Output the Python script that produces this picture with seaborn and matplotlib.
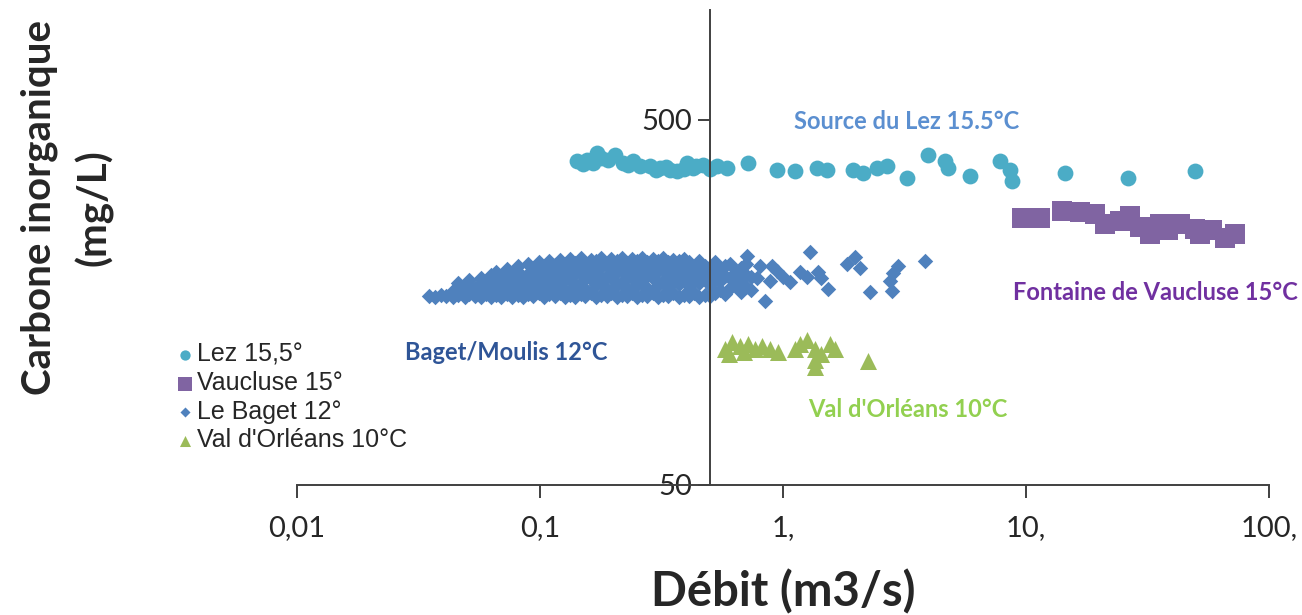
import numpy as np
import pandas as pd
import seaborn as sns
import matplotlib.pyplot as plt

# ---------------------------------------------------------
# Data (Debit m3/s, Carbone inorganique mg/L)
# ---------------------------------------------------------
lez_x = [0.142, 0.150, 0.156, 0.165, 0.171, 0.179, 0.190, 0.203, 0.219, 0.230,
         0.241, 0.258, 0.284, 0.300, 0.312, 0.330, 0.343, 0.366, 0.390, 0.402,
         0.426, 0.440, 0.469, 0.500, 0.537, 0.591, 0.718, 0.944, 1.12, 1.38,
         1.52, 1.94, 2.13, 2.44, 2.68, 3.24, 3.95, 4.64, 4.77, 5.89,
         7.82, 8.59, 8.75, 14.5, 26.3, 49.6]
lez_y = [385, 378, 388, 380, 406, 393, 388, 400, 381, 376,
         385, 373, 373, 365, 369, 372, 364, 362, 366, 381,
         369, 375, 376, 368, 373, 369, 381, 364, 362, 369,
         364, 364, 357, 369, 373, 346, 400, 385, 369, 352,
         385, 364, 340, 357, 346, 362]

vau_x = [9.63, 11.4, 14.1, 16.7, 19.2, 21.1, 24.4, 26.8, 29.5, 32.4,
         35.6, 38.4, 43.0, 49.6, 52.0, 58.2, 65.9, 72.4]
vau_y = [270, 270, 281, 279, 277, 260, 265, 272, 255, 244,
         260, 249, 259, 252, 244, 249, 237, 243]

# Le Baget: one column of x with the y values stacked at that x
baget_cols = [0.035, 0.037, 0.039, 0.041, 0.044, 0.046, 0.049, 0.051, 0.054, 0.057,
              0.060, 0.063, 0.066, 0.069, 0.073, 0.077, 0.081, 0.085, 0.089, 0.094,
              0.099, 0.104, 0.109, 0.115, 0.121, 0.127, 0.133, 0.140, 0.147, 0.154,
              0.162, 0.170, 0.179, 0.188, 0.197, 0.207, 0.217, 0.228, 0.239, 0.251,
              0.264, 0.277, 0.291, 0.306, 0.321, 0.337, 0.354, 0.372, 0.391, 0.411,
              0.432, 0.453, 0.476, 0.500, 0.525, 0.551, 0.579, 0.608, 0.638, 0.670,
              0.704, 0.740,
              0.711, 0.782, 0.804, 0.843, 0.884, 0.901, 0.944, 1.00, 1.07, 1.17,
              1.26, 1.29, 1.39, 1.44, 1.53, 1.83, 1.98, 2.07, 2.28, 2.76,
              2.81, 2.84, 2.97, 3.84]
baget_vals = [[165], [164], [166], [165], [164, 170], [166, 174, 179], [164, 171],
              [167, 176, 182], [165, 172], [164, 170, 179, 185],
              [167, 175], [164, 172, 181, 188], [166, 177, 191], [164, 170, 184],
              [167, 176, 188, 195], [164, 172, 183], [166, 178, 192, 199], [164, 170, 186],
              [167, 175, 189, 202], [165, 173, 184, 196],
              [168, 179, 191, 204], [164, 171, 186, 199], [167, 181, 193, 206],
              [165, 174, 187, 200], [168, 178, 195, 207], [164, 171, 185, 201],
              [166, 182, 193, 208], [164, 175, 189, 203], [167, 179, 197, 209],
              [165, 172, 186, 201],
              [168, 183, 194, 207], [164, 176, 190, 205], [166, 180, 198, 209],
              [165, 172, 187, 202], [168, 184, 195, 208], [164, 176, 191, 205],
              [166, 180, 199, 209], [165, 173, 188, 203], [168, 185, 196, 208],
              [164, 177, 192, 206],
              [166, 181, 199, 209], [165, 173, 189, 204], [168, 184, 196, 208],
              [164, 177, 193, 206], [166, 181, 200, 209], [165, 174, 189, 204],
              [168, 185, 197, 207], [164, 178, 193, 206], [166, 182, 200, 208],
              [165, 175, 190, 204],
              [168, 186, 198], [164, 179, 193, 205], [166, 183, 199], [165, 176, 190],
              [168, 185, 197, 204], [171, 181, 193], [167, 187, 199], [173, 185, 202],
              [177, 191], [169, 183, 196],
              [174, 188, 201], [171, 186],
              [212], [184], [199], [160], [181], [199], [193], [186], [180], [192],
              [186], [218], [192], [184], [172], [202], [211], [196], [169], [181],
              [170], [190], [199], [206]]

val_x = [0.577, 0.618, 0.665, 0.716, 0.764, 0.819, 0.884, 0.954, 0.600, 0.690,
         1.12, 1.17, 1.26, 1.35, 1.35, 1.35, 1.44, 1.56, 1.64, 2.23]
val_y = [118, 123, 120, 122, 118, 120, 118, 116, 114, 116,
         118, 122, 125, 118, 110, 105, 114, 122, 118, 109]

sites = ["Lez 15,5°", "Vaucluse 15°", "Le Baget 12°", "Val d'Orléans 10°C"]
colors = ["#4BACC6", "#8064A2", "#4F81BD", "#9BBB59"]
markers = ["o", "s", "D", "^"]
msizes = [130, 210, 62, 150]

x_ticks = [0.01, 0.1, 1, 10, 100]
x_labels = ["0,01", "0,1", "1,", "10,", "100,"]
y_ticks = [50, 500]
y_labels = ["50", "500"]

# build the table
baget_x = [x for x, ys in zip(baget_cols, baget_vals) for _ in ys]
baget_y = [y for ys in baget_vals for y in ys]
df = pd.concat([
    pd.DataFrame({"debit": lez_x, "carbone": lez_y, "site": sites[0]}),
    pd.DataFrame({"debit": vau_x, "carbone": vau_y, "site": sites[1]}),
    pd.DataFrame({"debit": baget_x, "carbone": baget_y, "site": sites[2]}),
    pd.DataFrame({"debit": val_x, "carbone": val_y, "site": sites[3]}),
])

sns.set_style("white")
plt.rcParams["font.family"] = ["Lato", "DejaVu Sans"]

fig = plt.figure(figsize=(13.02, 6.15), dpi=100)
ax = fig.add_axes([0.228, 0.2114, 0.7467, 0.7723])

for site, col, mk, sz in zip(sites, colors, markers, msizes):
    sns.scatterplot(data=df[df["site"] == site], x="debit", y="carbone",
                    color=col, marker=mk, s=sz, linewidth=0, label=site, ax=ax)

ax.set_xscale("log")
ax.set_yscale("log")
ax.set_xlim(0.01, 100)
ax.set_ylim(50, 1000)

ax.spines["top"].set_visible(False)
ax.spines["right"].set_visible(False)
ax.spines["left"].set_position(("data", 0.5))
for s in ["left", "bottom"]:
    ax.spines[s].set_color("#404040")
    ax.spines[s].set_linewidth(1.4)

ax.set_xticks(x_ticks)
ax.set_xticklabels(x_labels)
ax.set_yticks(y_ticks)
ax.set_yticklabels(y_labels)
ax.minorticks_off()
ax.tick_params(axis="x", direction="out", length=9, width=1.4, color="#404040",
               labelsize=21, pad=13, bottom=True)
ax.tick_params(axis="y", direction="out", length=9, width=1.4, color="#404040",
               labelsize=21, pad=4, left=True)

ax.set_xlabel("Débit (m3/s)", fontsize=34, fontweight="bold", labelpad=20)
ax.set_ylabel("")
fig.text(0.0515, 0.662, "Carbone inorganique\n(mg/L)", rotation=90,
         fontsize=29, fontweight="bold", ha="center", va="center",
         multialignment="center", linespacing=1.5)

# labels next to the groups
ax.text(3.24, 494, "Source du Lez 15.5°C", color="#5B8FD0", fontsize=17,
        fontweight="bold", ha="center", va="center")
fig.text(0.997, 1 - 292 / 615, "Fontaine de Vaucluse 15°C", color="#7030A0",
         fontsize=17, fontweight="bold", ha="right", va="center")
ax.text(0.0725, 115.5, "Baget/Moulis 12°C", color="#2F5597", fontsize=17,
        fontweight="bold", ha="center", va="center")
ax.text(3.27, 80.5, "Val d'Orléans 10°C", color="#92D050", fontsize=17,
        fontweight="bold", ha="center", va="center")

leg = ax.legend(loc="upper left", bbox_to_anchor=(0.126, 0.463),
                bbox_transform=fig.transFigure, frameon=False, markerscale=0.65,
                handletextpad=0.1, handlelength=0.7, borderpad=0, labelspacing=0.18,
                prop={"family": "Liberation Sans", "size": 18})

fig.savefig("out.png", dpi=100)
